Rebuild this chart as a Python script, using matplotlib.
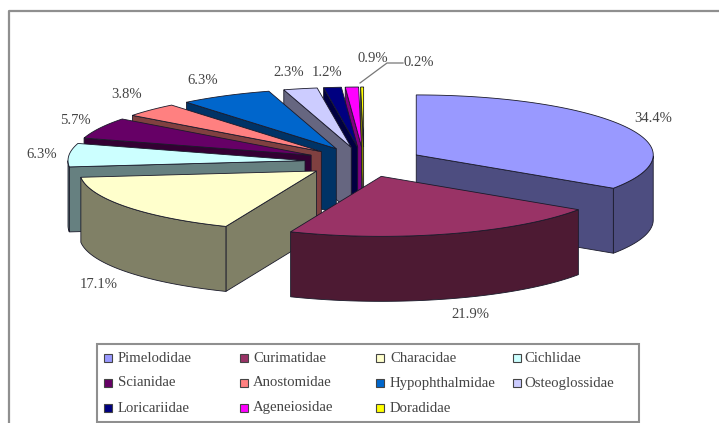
"""
Exploded 3D-style pie of catch share per fish family, drawn by hand because
matplotlib's pie has no extruded walls.
"""

import numpy as np
import matplotlib

matplotlib.use("Agg")
import matplotlib.pyplot as plt
from matplotlib.colors import to_rgb
from matplotlib.patches import Polygon, Rectangle

families = [
    "Pimelodidae", "Curimatidae", "Characidae", "Cichlidae",
    "Scianidae", "Anostomidae", "Hypophthalmidae", "Osteoglossidae",
    "Loricariidae", "Ageneiosidae", "Doradidae",
]
shares = [34.4, 21.9, 17.1, 6.3, 5.7, 3.8, 6.3, 2.3, 1.2, 0.9, 0.2]
colors = [
    "#9999FF", "#993366", "#FFFFCC", "#CCFFFF", "#660066", "#FF8080",
    "#0066CC", "#CCCCFF", "#000080", "#FF00FF", "#FFFF00",
]

# pixel-space layout of the pie
W, H = 719, 423
CX, CY = 364, 162
RX, RY = 237, 60
DEPTH = 65
EXPLODE = 0.25
EDGE = "#1a1a2a"

label_pos = [
    (653, 118), (470, 315), (99, 284), (42, 155), (75, 120), (127, 95),
    (203, 81), (289, 72), (327, 72), (373, 58), (419, 63),
]

plt.rcParams["font.family"] = ["Liberation Serif", "DejaVu Serif"]

fig = plt.figure(figsize=(W / 100, H / 100), dpi=100)
ax = fig.add_axes([0, 0, 1, 1])
ax.set_xlim(0, W)
ax.set_ylim(H, 0)
ax.axis("off")


def rim(x0, y0, theta):
    return x0 + RX * np.sin(theta), y0 - RY * np.cos(theta)


def wall(xs, ys, color):
    xs, ys = np.asarray(xs), np.asarray(ys)
    pts = np.column_stack([np.r_[xs, xs[::-1]], np.r_[ys, ys[::-1] + DEPTH]])
    ax.add_patch(Polygon(pts, closed=True, fc=color, ec=EDGE, lw=0.6))


def draw_slice(start, end, color):
    mid = (start + end) / 2
    x0 = CX + EXPLODE * RX * np.sin(mid)
    y0 = CY - EXPLODE * RY * np.cos(mid)
    shade = tuple(c * 0.5 for c in to_rgb(color))

    theta = np.linspace(start, end, 80)
    xs, ys = rim(x0, y0, theta)

    # only the faces turned towards the viewer get a wall
    if np.sin(start) < 0:
        wall([x0, xs[0]], [y0, ys[0]], shade)
    if np.sin(end) > 0:
        wall([xs[-1], x0], [ys[-1], y0], shade)
    front = (theta >= np.pi / 2) & (theta <= 3 * np.pi / 2)
    if front.sum() > 1:
        wall(xs[front], ys[front], shade)

    top = np.column_stack([np.r_[x0, xs], np.r_[y0, ys]])
    ax.add_patch(Polygon(top, closed=True, fc=color, ec=EDGE, lw=0.6))


fractions = np.array(shares) / sum(shares)
edges = np.r_[0, np.cumsum(fractions)] * 2 * np.pi
mids = (edges[:-1] + edges[1:]) / 2

# back slices first so the front ones cover them
for i in np.argsort(-np.cos(mids)):
    draw_slice(edges[i], edges[i + 1], colors[i])

for value, (x, y) in zip(shares, label_pos):
    ax.text(x, y, f"{value}%", ha="center", va="center", fontsize=10.5, color="#444444")

# leader lines for the two thinnest slices
ax.plot([360, 387, 403], [83, 63, 63], color="#777777", lw=0.9)

# outer frame, only left and top are in view
ax.plot([9, 9, W], [H, 11, 11], color="#8f8f8f", lw=1.6, clip_on=False)

# legend box
ax.add_patch(Rectangle((97, 344), 542, 78, fc="white", ec="#8f8f8f", lw=1.5))
marker_x = [108, 244, 380, 517]
text_x = [118, 253, 390, 524]
row_y = [358, 383, 408]
for i, (name, color) in enumerate(zip(families, colors)):
    col, row = i % 4, i // 4
    ax.add_patch(Rectangle((marker_x[col] - 4, row_y[row] - 4), 8, 8,
                           fc=color, ec="#444444", lw=0.8))
    ax.text(text_x[col], row_y[row], name, ha="left", va="center",
            fontsize=10.6, color="#444444")

fig.savefig("out.png", dpi=100)
